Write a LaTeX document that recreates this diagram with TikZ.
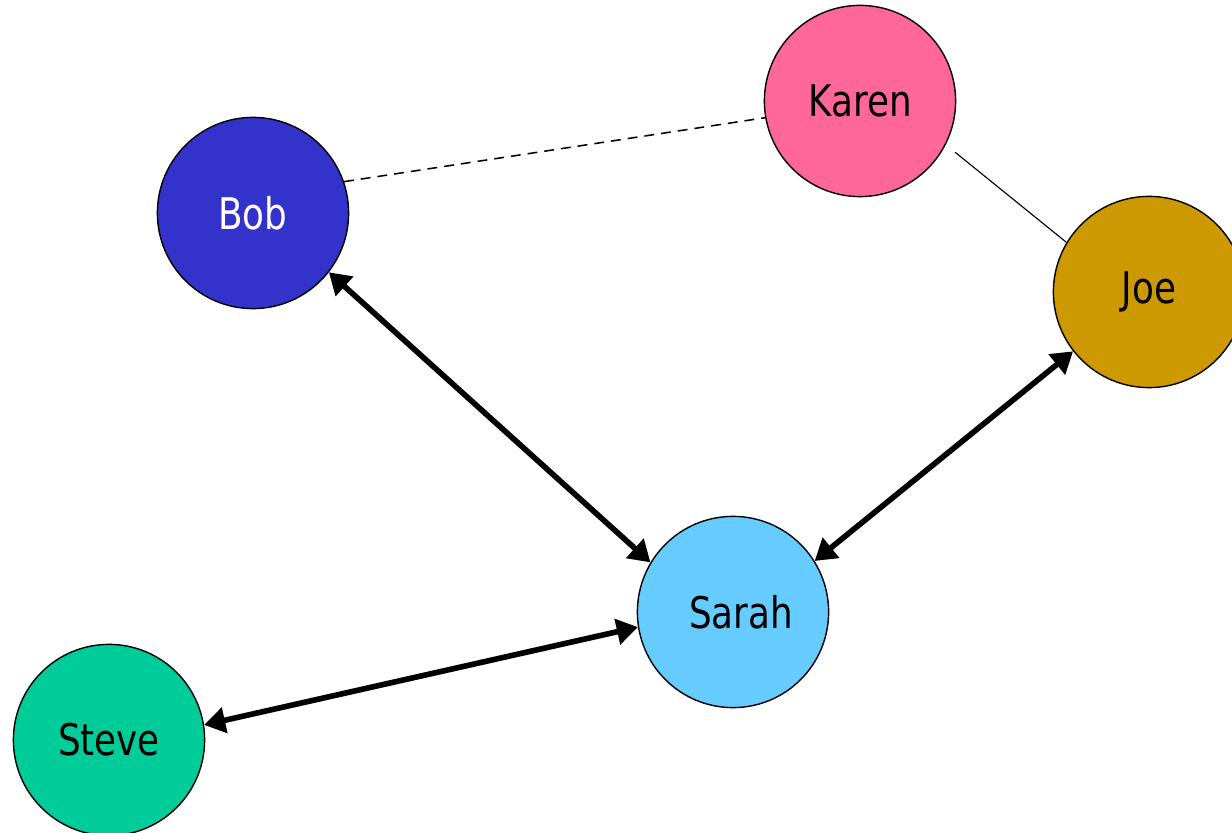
\documentclass[tikz,border=0pt]{standalone}
\usepackage{fontspec}
\setmainfont{DejaVu Sans}[FakeStretch=0.82]
\usepackage{xcolor}
\usepackage{tikz}
\usetikzlibrary{arrows.meta}
\definecolor{karenpink}{RGB}{255,102,153}
\definecolor{bobblue}{RGB}{51,51,204}
\definecolor{joegold}{RGB}{204,153,0}
\definecolor{sarahsky}{RGB}{102,204,255}
\definecolor{stevegreen}{RGB}{0,204,153}
\tikzset{
  person/.style={circle,draw=black,line width=1pt,minimum size=4.78cm,inner sep=0pt,
    font=\fontsize{31}{37}\selectfont},
  link/.style={{Triangle[length=15pt,width=18pt]}-{Triangle[length=15pt,width=18pt]},
    draw=black,line width=4pt},
  tie/.style={draw=black,line width=0.8pt},
  loose/.style={draw=black,line width=1.1pt,dash pattern=on 7pt off 5pt},
}

\begin{document}
\begin{tikzpicture}[x=0.025cm,y=-0.025cm]
  \useasboundingbox[fill=white] (0,0) rectangle (1232,833);

  \node[person,fill=karenpink] (karen) at (860,101) {Karen};
  \node[person,fill=bobblue,text=white] (bob) at (253,213) {Bob};
  \node[person,fill=joegold] (joe) at (1149,292) {Joe};
  \node[person,fill=sarahsky] (sarah) at (733,612) {\hspace*{0.4cm}Sarah};
  \node[person,fill=stevegreen] (steve) at (109,740) {Steve};

  \draw[loose] (bob.19) -- (karen.190);
  \draw[tie,shorten <=8.5pt] (karen.-27) -- (joe.149);
  \draw[link] (bob.-38) -- (sarah.149);
  \draw[link] (sarah.32) -- (joe.218);
  \draw[link] (steve.9) -- (sarah.189);
\end{tikzpicture}
\end{document}
